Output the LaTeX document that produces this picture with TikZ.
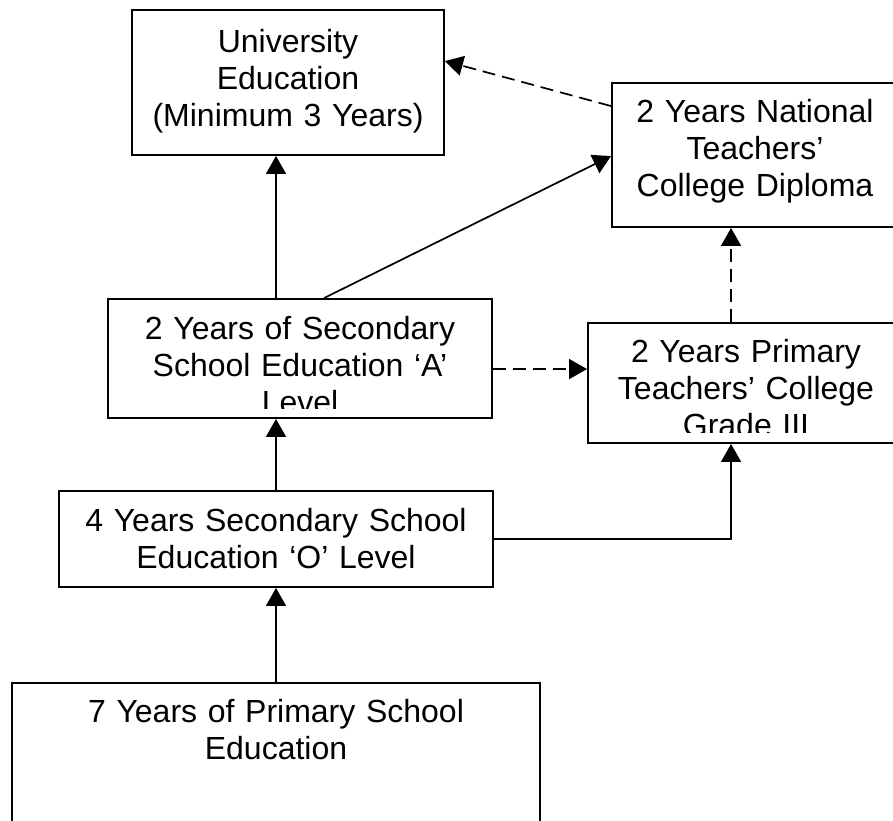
\documentclass[tikz,border=0pt]{standalone}
\usepackage{fontspec}
\setmainfont{Liberation Sans}
\usetikzlibrary{arrows.meta,calc}
\begin{document}
\begin{tikzpicture}[x=1pt,y=-1pt,
  box/.style={draw,line width=1.9pt,rectangle,inner sep=0pt},
  txt/.style={align=center,text width=520pt,font=\fontsize{32}{37}\selectfont,inner sep=0pt,anchor=base},
  arr/.style={line width=1.7pt,-{Triangle[length=18pt,width=20pt]}},
  dsh/.style={arr,dash pattern=on 13pt off 7pt}]
\clip (0,0) rectangle (893,820);
% boxes
\node[box,minimum width=312pt,minimum height=145pt] (uni) at (288,82.5) {};
\node[box,minimum width=286pt,minimum height=144pt] (nat) at (755,155) {};
\node[box,minimum width=384pt,minimum height=119pt] (alev) at (300,358.5) {};
\node[box,minimum width=316pt,minimum height=120pt] (ptc) at (746,383) {};
\node[box,minimum width=434pt,minimum height=96pt] (olev) at (276,539) {};
\node[box,minimum width=528pt,minimum height=167pt] (prim) at (276,766.5) {};
% texts
\node[txt] (unit) at ($(uni.north)+(0,43)$) {University\\Education\\(Minimum 3 Years)};
\node[txt] (natt) at ($(nat.north)+(0,40)$) {2 Years National\\Teachers’\\College Diploma};
\begin{scope}
  \clip (108,299) rectangle (492,408);
  \node[txt] (alevt) at ($(alev.north)+(0,41)$) {2 Years of Secondary\\School Education ‘A’\\Level};
\end{scope}
\begin{scope}
  \clip (588,323) rectangle (893,432);
  \node[txt] (ptct) at ($(ptc.north)+(0,40)$) {2 Years Primary\\Teachers’ College\\Grade III};
\end{scope}
\node[txt] (olevt) at ($(olev.north)+(0,41)$) {4 Years Secondary School\\Education ‘O’ Level};
\node[txt] (primt) at ($(prim.north)+(0,40)$) {7 Years of Primary School\\Education};
% connectors
\draw[arr] (alev.north -| olev.north) -- (uni.south -| olev.north);
\draw[arr] ($(alev.north west)+(217,0)$) -- ($(nat.north west)+(0,74)$);
\draw[dsh] ($(nat.north west)+(0,24)$) -- ($(uni.north east)+(0,52)$);
\draw[dsh] ($(ptc.north west)+(144,0)$) -- ($(nat.south west)+(120,0)$);
\draw[dsh] ($(alev.north east)+(0,71)$) -- ($(ptc.north west)+(0,47)$);
\draw[arr] (olev.north) -- (alev.south -| olev.north);
\draw[arr] (olev.east) -| ($(ptc.south west)+(144,0)$);
\draw[arr] (prim.north) -- (olev.south);
\end{tikzpicture}
\end{document}
